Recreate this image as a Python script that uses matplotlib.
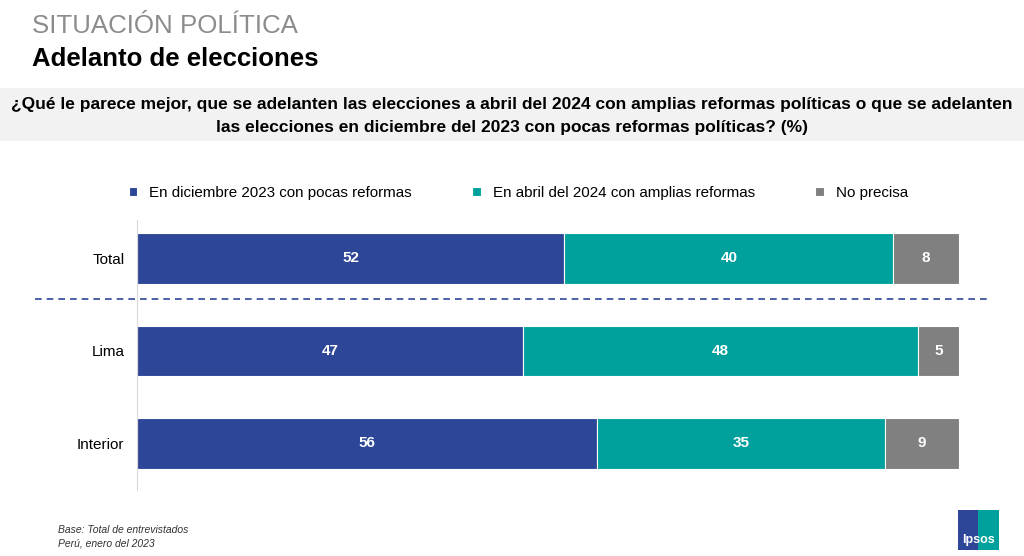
import matplotlib.pyplot as plt
from matplotlib.patches import Rectangle

plt.rcParams['font.family'] = ['Liberation Sans', 'DejaVu Sans']

# data
categories = ["Total", "Lima", "Interior"]
series_names = ["En diciembre 2023 con pocas reformas",
                "En abril del 2024 con amplias reformas",
                "No precisa"]
diciembre = [52, 47, 56]
abril = [40, 48, 35]
no_precisa = [8, 5, 9]
colors = ["#2E4697", "#00A19C", "#808080"]

fig = plt.figure(figsize=(10.24, 5.56), dpi=100)
W, H = 1024, 556

def fx(px):
    return px / W

def fy(py):
    return 1 - py / H

# header texts
fig.text(fx(32), fy(26), "SITUACIÓN POLÍTICA", fontsize=18.6, color="#8c8c8c", va="center")
fig.text(fx(32), fy(59), "Adelanto de elecciones", fontsize=18.5, fontweight="bold", color="black", va="center")

# question box
fig.add_artist(Rectangle((0, fy(141)), 1, (141 - 88) / H, transform=fig.transFigure,
                         facecolor="#f2f2f2", edgecolor="none", zorder=0))
fig.text(0.5, fy(116), "¿Qué le parece mejor, que se adelanten las elecciones a abril del 2024 con amplias reformas políticas o que se adelanten\n"
         "las elecciones en diciembre del 2023 con pocas reformas políticas? (%)",
         fontsize=12.5, fontweight="bold", ha="center", va="center", linespacing=1.6)

# bar chart
ax = fig.add_axes([fx(137), 1 - 490 / H, 822 / W, 270 / H])
ypos = list(range(len(categories)))
left = [0] * len(categories)
bars = []
for vals, name, col in zip([diciembre, abril, no_precisa], series_names, colors):
    b = ax.barh(ypos, vals, left=left, height=0.55, color=col, edgecolor="white", linewidth=0.8, label=name)
    bars.append(b)
    for y, v, l in zip(ypos, vals, left):
        ax.text(l + v / 2, y, str(v), color="white", fontsize=11, fontweight="bold", ha="center", va="center")
    left = [a + b_ for a, b_ in zip(left, vals)]

ax.set_xlim(0, 100)
ax.set_ylim(2.503, -0.416)
ax.set_yticks(ypos)
ax.set_yticklabels(categories, fontsize=11)
ax.tick_params(axis="y", length=0, pad=9)
ax.set_xticks([])
for s in ["top", "right", "bottom"]:
    ax.spines[s].set_visible(False)
ax.spines["left"].set_color("#d9d9d9")

# dashed separator between Total and the rest
ax.plot([-12.4, 103.8], [0.438, 0.438], linestyle=(0, (4, 3)), color="#2E4697",
        linewidth=1.2, clip_on=False)

# legend
fig.legend(handles=bars, labels=series_names, ncol=3, loc="center left",
           bbox_to_anchor=(fx(115), fy(193)), frameon=False, fontsize=10.9,
           handlelength=0.55, handleheight=0.55, handletextpad=0.8, columnspacing=4.0)

# footer
fig.text(fx(58), fy(530), "Base: Total de entrevistados", fontsize=7.5, style="italic", color="#333333", va="center")
fig.text(fx(58), fy(543), "Perú, enero del 2023", fontsize=7.5, style="italic", color="#333333", va="center")

# Ipsos logo
fig.add_artist(Rectangle((fx(958), fy(550)), 20 / W, 40 / H, transform=fig.transFigure,
                         facecolor="#2E4697", edgecolor="none"))
fig.add_artist(Rectangle((fx(978), fy(550)), 21 / W, 40 / H, transform=fig.transFigure,
                         facecolor="#00A19C", edgecolor="none"))
fig.text(fx(978.5), fy(540), "Ipsos", fontsize=9, fontweight="bold", color="white", ha="center", va="center")

fig.savefig("out.png", dpi=100)
